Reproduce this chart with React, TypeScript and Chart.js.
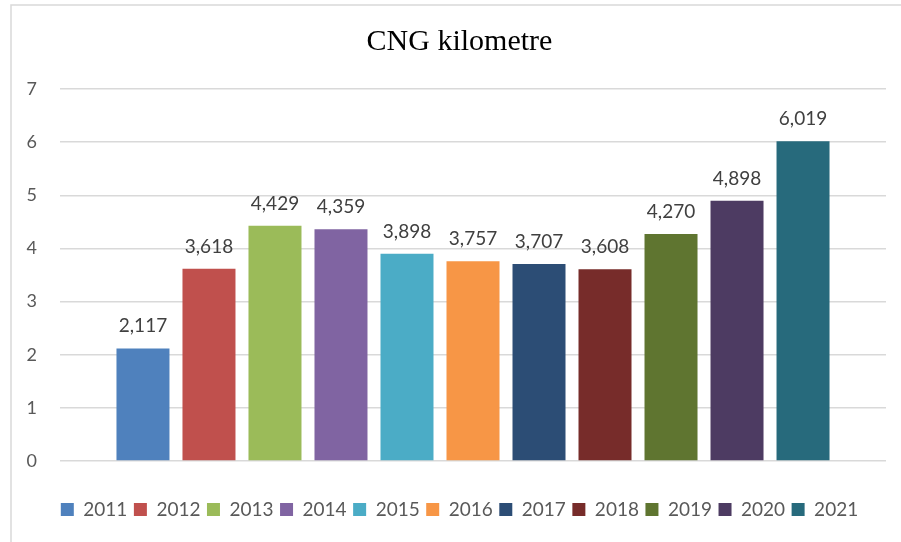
import React, { useEffect, useRef } from "react";
import { Chart, registerables } from "chart.js";

Chart.register(...registerables);

const years = ["2011", "2012", "2013", "2014", "2015", "2016", "2017", "2018", "2019", "2020", "2021"];
const values = [2.117, 3.618, 4.429, 4.359, 3.898, 3.757, 3.707, 3.608, 4.27, 4.898, 6.019];
const colors = ["#4F81BD", "#C0504D", "#9BBB59", "#8064A2", "#4BACC6", "#F79646", "#2C4D75", "#772C2A", "#5F7530", "#4D3B62", "#276A7C"];
const yTicks = [0, 1, 2, 3, 4, 5, 6, 7];
const titleText = "CNG kilometre";

const fmt = (v: number) => v.toFixed(3).replace(".", ",");

const borderPlugin = {
  id: "outerBorder",
  beforeDraw(chart: any) {
    const ctx = chart.ctx;
    ctx.save();
    ctx.strokeStyle = "#d9d9d9";
    ctx.lineWidth = 1.5;
    ctx.strokeRect(11, 5, 1000, 1000);
    ctx.restore();
  },
};

const labelPlugin = {
  id: "valueLabels",
  afterDatasetsDraw(chart: any) {
    const ctx = chart.ctx;
    ctx.save();
    ctx.font = "19px Lato";
    ctx.fillStyle = "#404040";
    ctx.textAlign = "center";
    ctx.textBaseline = "alphabetic";
    chart.data.datasets.forEach((ds: any, i: number) => {
      const meta = chart.getDatasetMeta(i);
      meta.data.forEach((el: any, j: number) => {
        ctx.fillText(fmt(ds.data[j]), el.x, el.y - 16);
      });
    });
    ctx.restore();
  },
};

export default function App() {
  const ref = useRef<HTMLCanvasElement>(null);
  useEffect(() => {
    if (!ref.current) return;
    const chart = new Chart(ref.current, {
      type: "bar",
      data: {
        labels: [""],
        datasets: years.map((y, i) => ({
          label: y,
          data: [values[i]],
          backgroundColor: colors[i],
          borderWidth: 0,
          categoryPercentage: 0.879,
          barPercentage: 0.803,
        })),
      },
      options: {
        animation: false,
        responsive: true,
        maintainAspectRatio: false,
        layout: { padding: { left: 24, right: 6, top: 0, bottom: 13 } },
        plugins: {
          tooltip: { enabled: false },
          title: {
            display: true,
            text: titleText,
            color: "#000",
            font: { family: "Liberation Serif", size: 30, weight: "normal" },
            padding: { top: 24, bottom: 29 },
          },
          legend: {
            position: "bottom",
            labels: {
              boxWidth: 13,
              boxHeight: 13,
              padding: 6.5,
              color: "#595959",
              font: { family: "Lato", size: 19 },
            },
          },
        },
        scales: {
          x: {
            grid: { display: false },
            border: { display: false },
            ticks: { display: false },
            afterFit(scale: any) {
              scale.height = 32.5;
            },
          },
          y: {
            min: yTicks[0],
            max: yTicks[yTicks.length - 1],
            afterFit(scale: any) {
              scale.width = 36;
            },
            ticks: {
              stepSize: 1,
              padding: 23,
              color: "#595959",
              font: { family: "Lato", size: 18 },
            },
            grid: { color: "#d9d9d9", lineWidth: 1.5, drawTicks: false },
            border: { display: false },
          },
          yRightSpacer: {
            position: "right",
            min: 0,
            max: 1,
            grid: { display: false },
            border: { display: false },
            ticks: { display: false },
            afterFit(scale: any) {
              scale.width = 9;
            },
          },
        },
      },
      plugins: [borderPlugin, labelPlugin],
    } as any);
    return () => chart.destroy();
  }, []);
  return (
    <div style={{ position: "absolute", left: 0, top: 0, width: 901, height: 542 }}>
      <canvas ref={ref} />
    </div>
  );
}
